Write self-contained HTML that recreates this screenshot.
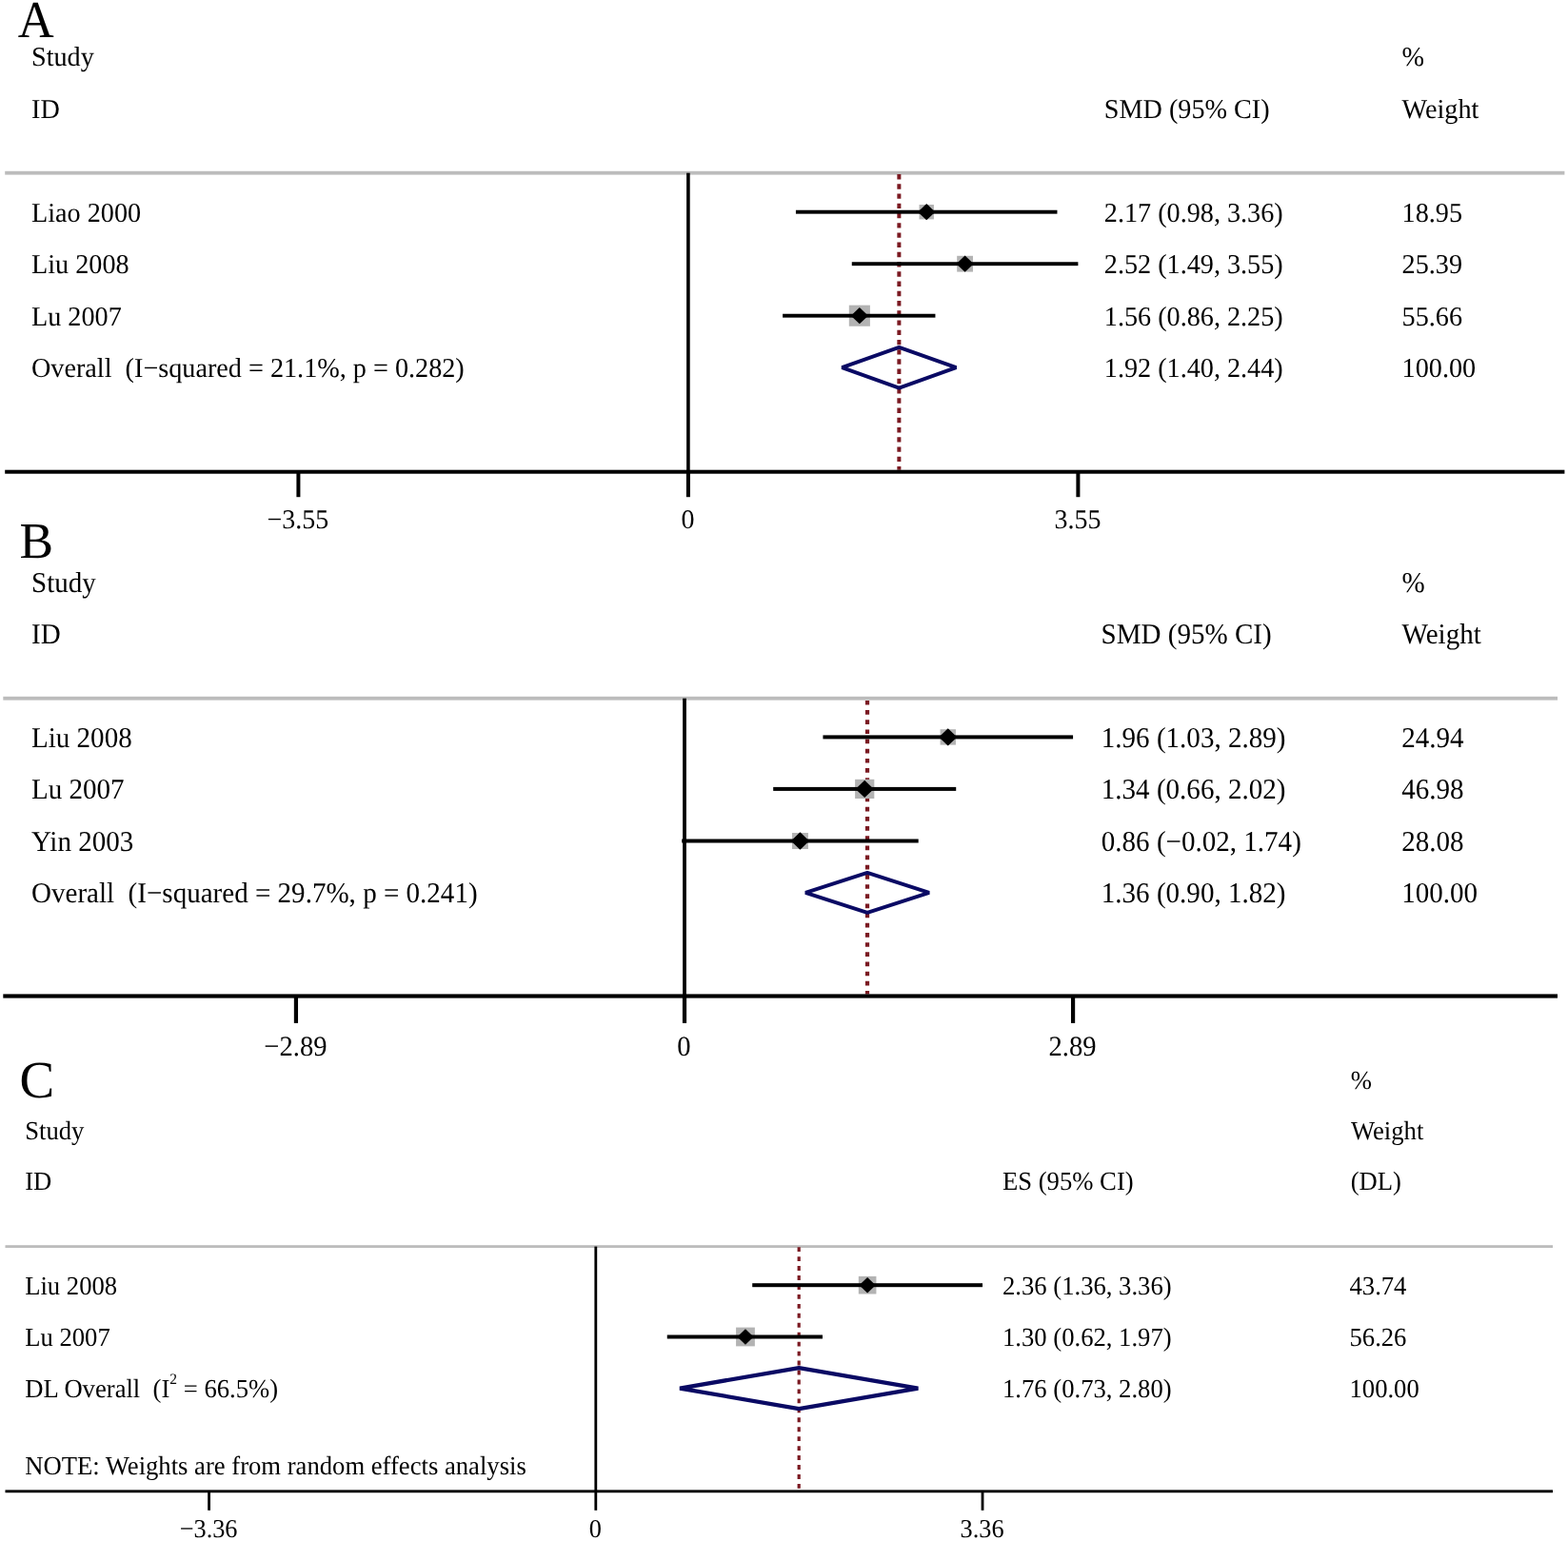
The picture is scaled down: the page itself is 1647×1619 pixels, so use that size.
<!DOCTYPE html>
<html><head><meta charset="utf-8"><title>Forest plots</title>
<style>
html,body{margin:0;padding:0;background:#fff;}
body{width:1647px;height:1619px;overflow:hidden;}
svg{display:block;}
text{font-family:'Liberation Serif', 'Times New Roman', serif;fill:#000;text-rendering:geometricPrecision;}
</style></head><body>
<svg width="1647" height="1619" viewBox="0 0 1647 1619">
<rect width="1647" height="1619" fill="#fff"/>
<text transform="translate(18.80 38.60) scale(1 1.044)" font-size="52.5">A</text>
<text transform="translate(33.00 69.10) scale(1 1.02)" font-size="28.2">Study</text>
<text transform="translate(33.00 123.60) scale(1 1.02)" font-size="28.2">ID</text>
<text transform="translate(1159.80 123.60) scale(1 1.02)" font-size="28.2">SMD (95% CI)</text>
<text transform="translate(1472.60 69.10) scale(1 1.02)" font-size="28.2">%</text>
<text transform="translate(1472.60 123.60) scale(1 1.02)" font-size="28.2">Weight</text>
<rect x="5.20" y="179.80" width="1638.20" height="3.80" fill="#bcbcbc"/>
<rect x="721.10" y="181.70" width="3.60" height="314.00" fill="#000"/>
<line x1="944.37" y1="183.00" x2="944.37" y2="493.70" stroke="#7b1a22" stroke-width="4.0" stroke-dasharray="5.4 4.83"/>
<rect x="965.51" y="215.00" width="15.40" height="15.40" fill="#b3b3b3"/>
<rect x="835.94" y="220.75" width="274.53" height="3.90" fill="#000"/>
<path d="M964.11 222.70L973.21 214.05L982.31 222.70L973.21 231.35Z" fill="#000"/>
<text transform="translate(33.00 232.60) scale(1 1.02)" font-size="28.2" xml:space="preserve">Liao 2000</text>
<text transform="translate(1159.80 232.60) scale(1 1.02)" font-size="28.2">2.17 (0.98, 3.36)</text>
<text transform="translate(1472.60 232.60) scale(1 1.02)" font-size="28.2">18.95</text>
<rect x="1005.18" y="268.80" width="16.80" height="16.80" fill="#b3b3b3"/>
<rect x="894.77" y="275.25" width="237.62" height="3.90" fill="#000"/>
<path d="M1004.48 277.20L1013.58 268.55L1022.68 277.20L1013.58 285.85Z" fill="#000"/>
<text transform="translate(33.00 287.10) scale(1 1.02)" font-size="28.2" xml:space="preserve">Liu 2008</text>
<text transform="translate(1159.80 287.10) scale(1 1.02)" font-size="28.2">2.52 (1.49, 3.55)</text>
<text transform="translate(1472.60 287.10) scale(1 1.02)" font-size="28.2">25.39</text>
<rect x="891.80" y="320.65" width="22.10" height="22.10" fill="#b3b3b3"/>
<rect x="822.10" y="329.75" width="160.34" height="3.90" fill="#000"/>
<path d="M893.75 331.70L902.85 323.05L911.95 331.70L902.85 340.35Z" fill="#000"/>
<text transform="translate(33.00 341.60) scale(1 1.02)" font-size="28.2" xml:space="preserve">Lu 2007</text>
<text transform="translate(1159.80 341.60) scale(1 1.02)" font-size="28.2">1.56 (0.86, 2.25)</text>
<text transform="translate(1472.60 341.60) scale(1 1.02)" font-size="28.2">55.66</text>
<path d="M884.39 386.20L944.37 364.80L1004.35 386.20L944.37 407.60Z" fill="none" stroke="#0a0a64" stroke-width="3.9" stroke-linejoin="bevel"/>
<text transform="translate(33.00 396.10) scale(1 1.02)" font-size="28.2" xml:space="preserve">Overall  (I−squared = 21.1%, p = 0.282)</text>
<text transform="translate(1159.80 396.10) scale(1 1.02)" font-size="28.2">1.92 (1.40, 2.44)</text>
<text transform="translate(1472.60 396.10) scale(1 1.02)" font-size="28.2">100.00</text>
<rect x="5.20" y="493.70" width="1638.20" height="4.00" fill="#000"/>
<rect x="311.41" y="495.70" width="4.00" height="26.50" fill="#000"/>
<text transform="translate(312.91 554.90) scale(1 1.02)" font-size="28" text-anchor="middle">−3.55</text>
<rect x="720.90" y="495.70" width="4.00" height="26.50" fill="#000"/>
<text transform="translate(722.40 554.90) scale(1 1.02)" font-size="28" text-anchor="middle">0</text>
<rect x="1130.39" y="495.70" width="4.00" height="26.50" fill="#000"/>
<text transform="translate(1131.89 554.90) scale(1 1.02)" font-size="28" text-anchor="middle">3.55</text>
<text x="20.50" y="586.00" font-size="53.3">B</text>
<text transform="translate(33.00 621.80) scale(1 1.04)" font-size="29.05">Study</text>
<text transform="translate(33.00 676.30) scale(1 1.04)" font-size="29.05">ID</text>
<text transform="translate(1156.60 676.30) scale(1 1.04)" font-size="29.05">SMD (95% CI)</text>
<text transform="translate(1472.60 621.80) scale(1 1.04)" font-size="29.05">%</text>
<text transform="translate(1472.60 676.30) scale(1 1.04)" font-size="29.05">Weight</text>
<rect x="3.30" y="731.80" width="1632.70" height="3.80" fill="#bcbcbc"/>
<rect x="717.10" y="733.70" width="3.80" height="312.80" fill="#000"/>
<line x1="911.03" y1="735.90" x2="911.03" y2="1044.40" stroke="#7b1a22" stroke-width="4.2" stroke-dasharray="4.7 5.47"/>
<rect x="987.55" y="766.20" width="16.40" height="16.40" fill="#b3b3b3"/>
<rect x="864.44" y="772.40" width="262.63" height="4.00" fill="#000"/>
<path d="M986.20 774.40L995.75 765.25L1005.30 774.40L995.75 783.55Z" fill="#000"/>
<text transform="translate(33.00 784.80) scale(1 1.04)" font-size="29.05" xml:space="preserve">Liu 2008</text>
<text transform="translate(1156.80 784.80) scale(1 1.04)" font-size="29.05">1.96 (1.03, 2.89)</text>
<text transform="translate(1472.20 784.80) scale(1 1.04)" font-size="29.05">24.94</text>
<rect x="898.11" y="818.80" width="20.20" height="20.20" fill="#b3b3b3"/>
<rect x="812.19" y="826.90" width="192.03" height="4.00" fill="#000"/>
<path d="M898.66 828.90L908.21 819.75L917.76 828.90L908.21 838.05Z" fill="#000"/>
<text transform="translate(33.00 839.30) scale(1 1.04)" font-size="29.05" xml:space="preserve">Lu 2007</text>
<text transform="translate(1156.80 839.30) scale(1 1.04)" font-size="29.05">1.34 (0.66, 2.02)</text>
<text transform="translate(1472.20 839.30) scale(1 1.04)" font-size="29.05">46.98</text>
<rect x="831.93" y="875.00" width="17.00" height="17.00" fill="#b3b3b3"/>
<rect x="716.18" y="881.50" width="248.51" height="4.00" fill="#000"/>
<path d="M830.88 883.50L840.43 874.35L849.98 883.50L840.43 892.65Z" fill="#000"/>
<text transform="translate(33.00 893.90) scale(1 1.04)" font-size="29.05" xml:space="preserve">Yin 2003</text>
<text transform="translate(1156.80 893.90) scale(1 1.04)" font-size="29.05">0.86 (−0.02, 1.74)</text>
<text transform="translate(1472.20 893.90) scale(1 1.04)" font-size="29.05">28.08</text>
<path d="M846.08 937.80L911.03 916.80L975.98 937.80L911.03 958.80Z" fill="none" stroke="#0a0a64" stroke-width="3.9" stroke-linejoin="bevel"/>
<text transform="translate(33.00 948.20) scale(1 1.04)" font-size="29.05" xml:space="preserve">Overall  (I−squared = 29.7%, p = 0.241)</text>
<text transform="translate(1156.80 948.20) scale(1 1.04)" font-size="29.05">1.36 (0.90, 1.82)</text>
<text transform="translate(1472.20 948.20) scale(1 1.04)" font-size="29.05">100.00</text>
<rect x="3.30" y="1044.40" width="1632.70" height="4.20" fill="#000"/>
<rect x="308.83" y="1046.50" width="4.20" height="28.40" fill="#000"/>
<text transform="translate(310.43 1109.10) scale(1 1.04)" font-size="28.6" text-anchor="middle">−2.89</text>
<rect x="716.90" y="1046.50" width="4.20" height="28.40" fill="#000"/>
<text transform="translate(718.50 1109.10) scale(1 1.04)" font-size="28.6" text-anchor="middle">0</text>
<rect x="1124.97" y="1046.50" width="4.20" height="28.40" fill="#000"/>
<text transform="translate(1126.57 1109.10) scale(1 1.04)" font-size="28.6" text-anchor="middle">2.89</text>
<text x="20.50" y="1153.40" font-size="55">C</text>
<text transform="translate(1418.70 1143.80) scale(1 1.035)" font-size="26.65">%</text>
<text transform="translate(26.20 1197.30) scale(1 1.035)" font-size="26.65">Study</text>
<text transform="translate(1419.00 1196.80) scale(1 1.035)" font-size="26.65">Weight</text>
<text transform="translate(26.20 1250.20) scale(1 1.035)" font-size="26.65">ID</text>
<text transform="translate(1053.00 1250.20) scale(1 1.035)" font-size="26.65">ES (95% CI)</text>
<text transform="translate(1418.70 1250.20) scale(1 1.035)" font-size="26.65">(DL)</text>
<rect x="5.50" y="1308.20" width="1625.50" height="2.80" fill="#bcbcbc"/>
<rect x="624.40" y="1309.60" width="2.80" height="257.20" fill="#000"/>
<line x1="839.19" y1="1310.20" x2="839.19" y2="1565.35" stroke="#7b1a22" stroke-width="3.2" stroke-dasharray="4.9 5.05"/>
<rect x="901.82" y="1340.90" width="18.60" height="18.60" fill="#b3b3b3"/>
<rect x="790.22" y="1348.20" width="241.80" height="4.00" fill="#000"/>
<path d="M902.52 1350.20L911.12 1341.95L919.72 1350.20L911.12 1358.45Z" fill="#000"/>
<text transform="translate(26.20 1359.50) scale(1 1.035)" font-size="26.65" xml:space="preserve">Liu 2008</text>
<text transform="translate(1053.00 1359.50) scale(1 1.035)" font-size="26.65">2.36 (1.36, 3.36)</text>
<text transform="translate(1417.50 1359.50) scale(1 1.035)" font-size="26.65">43.74</text>
<rect x="773.07" y="1394.60" width="19.80" height="19.80" fill="#b3b3b3"/>
<rect x="700.76" y="1402.50" width="163.22" height="4.00" fill="#000"/>
<path d="M774.37 1404.50L782.97 1396.25L791.57 1404.50L782.97 1412.75Z" fill="#000"/>
<text transform="translate(26.20 1413.80) scale(1 1.035)" font-size="26.65" xml:space="preserve">Lu 2007</text>
<text transform="translate(1053.00 1413.80) scale(1 1.035)" font-size="26.65">1.30 (0.62, 1.97)</text>
<text transform="translate(1417.50 1413.80) scale(1 1.035)" font-size="26.65">56.26</text>
<path d="M714.06 1458.60L839.19 1437.10L964.32 1458.60L839.19 1480.10Z" fill="none" stroke="#0a0a64" stroke-width="4.3" stroke-linejoin="bevel"/>
<text transform="translate(26.20 1467.90) scale(1 1.035)" font-size="26.65" xml:space="preserve">DL Overall  (I<tspan font-size="15.5" dy="-13.33">2</tspan><tspan dy="13.33"> = 66.5%)</tspan></text>
<text transform="translate(1053.00 1467.90) scale(1 1.035)" font-size="26.65">1.76 (0.73, 2.80)</text>
<text transform="translate(1417.50 1467.90) scale(1 1.035)" font-size="26.65">100.00</text>
<text transform="translate(26.20 1548.60) scale(1 1.035)" font-size="26.65">NOTE: Weights are from random effects analysis</text>
<rect x="5.50" y="1565.35" width="1625.50" height="2.90" fill="#000"/>
<rect x="218.18" y="1566.80" width="2.80" height="20.00" fill="#000"/>
<text transform="translate(219.08 1614.60) scale(1 1.035)" font-size="26.3" text-anchor="middle">−3.36</text>
<rect x="624.40" y="1566.80" width="2.80" height="20.00" fill="#000"/>
<text transform="translate(625.30 1614.60) scale(1 1.035)" font-size="26.3" text-anchor="middle">0</text>
<rect x="1030.62" y="1566.80" width="2.80" height="20.00" fill="#000"/>
<text transform="translate(1031.52 1614.60) scale(1 1.035)" font-size="26.3" text-anchor="middle">3.36</text>
</svg>
</body></html>
